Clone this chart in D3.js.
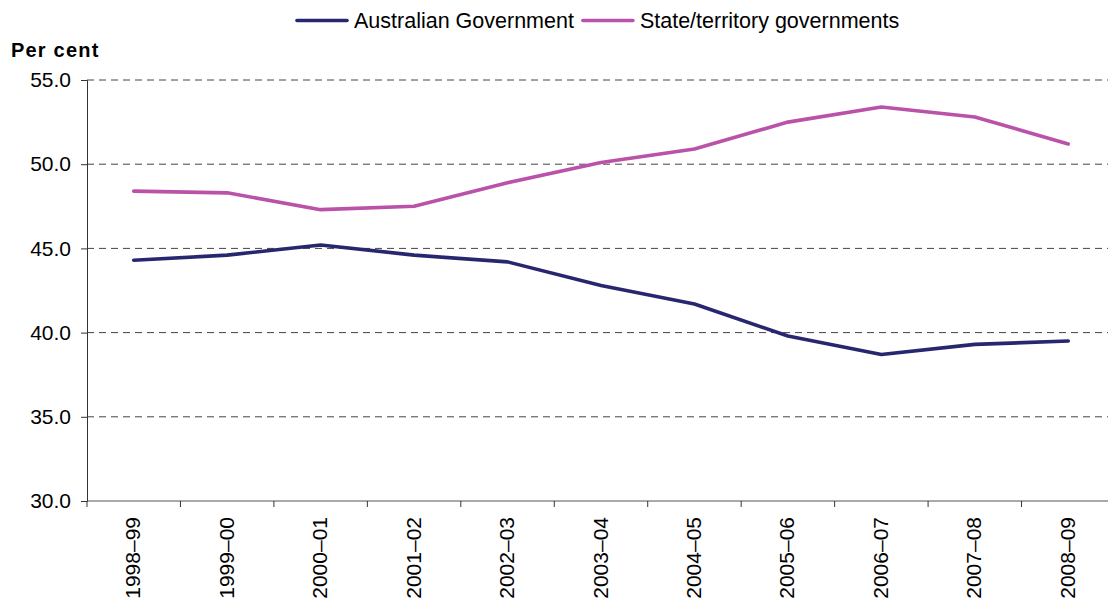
<!DOCTYPE html>
<html>
<head>
<meta charset="utf-8">
<script src="https://cdn.jsdelivr.net/npm/d3@7"></script>
<style>
  body { margin: 0; background: #fff; }
  svg { font-family: "Liberation Sans", Arial, sans-serif; }
</style>
</head>
<body>
<div class="layout"></div>
<script>
var years = ["1998–99", "1999–00", "2000–01", "2001–02", "2002–03", "2003–04",
             "2004–05", "2005–06", "2006–07", "2007–08", "2008–09"];
var australianGov = [44.3, 44.6, 45.2, 44.6, 44.2, 42.8, 41.7, 39.8, 38.7, 39.3, 39.5];
var stateGov = [48.4, 48.3, 47.3, 47.5, 48.9, 50.1, 50.9, 52.5, 53.4, 52.8, 51.2];
var yTicks = [30, 35, 40, 45, 50, 55];

var series = [
    {name: "Australian Government", values: australianGov, color: "#27276f"},
    {name: "State/territory governments", values: stateGov, color: "#b952a8"}
];

var margin = {top: 80, right: -7, bottom: 105, left: 87},
    width = 1108 - margin.left - margin.right,
    height = 606 - margin.top - margin.bottom;

var x = d3.scaleBand()
        .domain(years)
        .range([0, width]);

var y = d3.scaleLinear()
        .domain([30, 55])
        .range([height, 0]);

var svg = d3.select(".layout").append("svg")
        .attr("width", 1108)
        .attr("height", 606);

var g = svg.append("g")
        .attr("transform", "translate(" + margin.left + "," + margin.top + ")");

// dashed gridlines
g.append("g")
        .attr("class", "grid")
        .selectAll("line")
        .data(yTicks.filter(function(d) { return d > 30; }))
        .enter().append("line")
        .attr("x1", 0)
        .attr("x2", width)
        .attr("y1", function(d) { return y(d); })
        .attr("y2", function(d) { return y(d); })
        .attr("stroke", "#444")
        .attr("stroke-width", 1)
        .attr("stroke-dasharray", "7,5");

// y axis
var yAxis = d3.axisLeft(y)
        .tickValues(yTicks)
        .tickFormat(d3.format(".1f"))
        .tickSize(6)
        .tickPadding(10);

var yg = g.append("g").attr("class", "y axis").call(yAxis);
yg.select(".domain").attr("stroke", "#333");
yg.selectAll(".tick line").attr("stroke", "#333");
yg.selectAll("text").attr("font-size", 21).attr("fill", "#000")
        .attr("font-family", "Liberation Sans, Arial, sans-serif");

// x axis with ticks on band boundaries
var xg = g.append("g")
        .attr("class", "x axis")
        .attr("transform", "translate(0," + height + ")");

xg.append("line")
        .attr("x1", 0).attr("x2", width)
        .attr("stroke", "#555");

xg.selectAll(".tk")
        .data(years.concat([null]))
        .enter().append("line")
        .attr("class", "tk")
        .attr("x1", function(d, i) { return i * x.step(); })
        .attr("x2", function(d, i) { return i * x.step(); })
        .attr("y1", 0).attr("y2", 6)
        .attr("stroke", "#333");

xg.selectAll("text")
        .data(years)
        .enter().append("text")
        .attr("transform", function(d) {
            return "translate(" + (x(d) + x.bandwidth() / 2 + 6.5) + ",16) rotate(-90)";
        })
        .attr("text-anchor", "end")
        .attr("font-size", 21)
        .attr("fill", "#000")
        .text(function(d) { return d; });

// lines
var line = d3.line()
        .x(function(d, i) { return x(years[i]) + x.bandwidth() / 2; })
        .y(function(d) { return y(d); });

g.selectAll(".series")
        .data(series)
        .enter().append("path")
        .attr("class", "series")
        .attr("d", function(d) { return line(d.values); })
        .attr("fill", "none")
        .attr("stroke", function(d) { return d.color; })
        .attr("stroke-width", 3.6)
        .attr("stroke-linejoin", "round")
        .attr("stroke-linecap", "round");

// y axis title
svg.append("text")
        .attr("x", 11)
        .attr("y", 57)
        .attr("font-size", 20)
        .attr("font-weight", "bold")
        .attr("letter-spacing", 1.2)
        .attr("fill", "#000")
        .text("Per cent");

// legend
var lx = 297;
series.forEach(function(s) {
    var item = svg.append("g")
            .attr("class", "legend")
            .attr("transform", "translate(" + lx + ",20.5)");
    item.append("line")
            .attr("x1", 0).attr("x2", 50)
            .attr("stroke", s.color)
            .attr("stroke-width", 3.6)
            .attr("stroke-linecap", "round");
    var t = item.append("text")
            .attr("x", 57)
            .attr("y", 7)
            .attr("font-size", 21.5)
            .attr("fill", "#000")
            .text(s.name);
    lx += 57 + t.node().getComputedTextLength() + 9;
});
</script>
</body>
</html>
